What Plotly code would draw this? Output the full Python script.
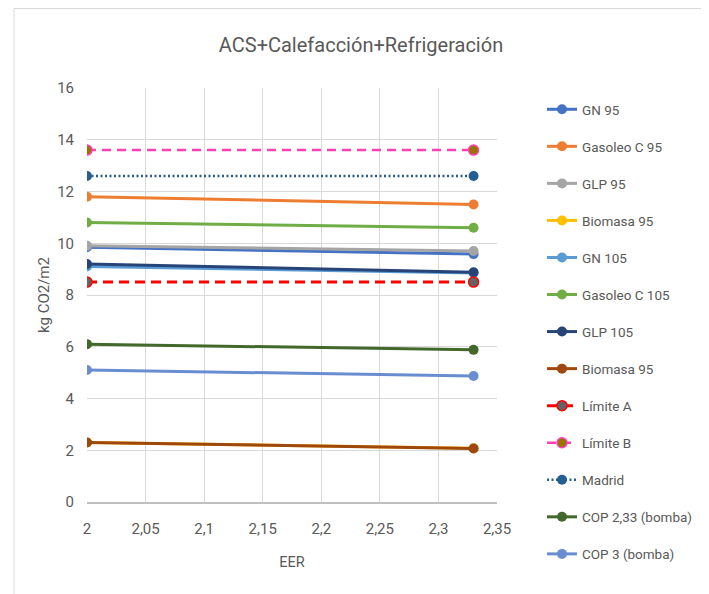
import plotly.graph_objects as go

eer = [2, 2.33]

names = ["GN 95", "Gasoleo C 95", "GLP 95", "Biomasa 95", "GN 105", "Gasoleo C 105",
         "GLP 105", "Biomasa 95", "Límite A", "Límite B", "Madrid",
         "COP 2,33 (bomba)", "COP 3 (bomba)"]

gn95 = [9.85, 9.58]
gasoleo95 = [11.8, 11.5]
glp95 = [9.9, 9.7]
biomasa95 = [2.3, 2.08]
gn105 = [9.1, 8.85]
gasoleo105 = [10.8, 10.6]
glp105 = [9.2, 8.88]
biomasa95b = [2.3, 2.07]
limite_a = [8.5, 8.5]
limite_b = [13.6, 13.6]
madrid = [12.6, 12.6]
cop233 = [6.1, 5.88]
cop3 = [5.1, 4.87]

series = [gn95, gasoleo95, glp95, biomasa95, gn105, gasoleo105, glp105, biomasa95b,
          limite_a, limite_b, madrid, cop233, cop3]

line_colors = ["#4472C4", "#ED7D31", "#A5A5A5", "#FFC000", "#5B9BD5", "#70AD47",
               "#264478", "#9E480E", "#FF0000", "#FF40B4", "#255E91", "#43682B", "#698ED0"]
marker_fill = ["#4472C4", "#ED7D31", "#A5A5A5", "#FFC000", "#5B9BD5", "#70AD47",
               "#264478", "#9E480E", "#636363", "#997300", "#255E91", "#43682B", "#698ED0"]
dashes = ["solid"] * 8 + ["10px,6px", "9px,6px", "2px,2.5px", "solid", "solid"]
widths = [3] * 8 + [3, 2.5, 2.5, 3, 3]

FONT = "Roboto, sans-serif"
GRAY = "#595959"

# page body has an 8px margin: layout is given in figure (container) pixels
L, T, PW, PH = 79, 80, 410, 414
W, H = 709, 594

fig = go.Figure()
for i, (nm, ys) in enumerate(zip(names, series)):
    fig.add_trace(go.Scatter(
        x=eer, y=ys, name=nm, mode="lines+markers",
        legendgroup=f"g{i}",
        line=dict(color=line_colors[i], width=widths[i], dash=dashes[i]),
        marker=dict(size=10, color=marker_fill[i],
                    line=dict(color=line_colors[i], width=1.5 if i in (8, 9) else 0)),
    ))

fig.update_layout(
    width=W, height=H,
    paper_bgcolor="white", plot_bgcolor="white",
    separators=", ",
    margin=dict(l=L, r=W - L - PW, t=T, b=H - T - PH, autoexpand=False),
    font=dict(family=FONT, color=GRAY, size=15),
    title=dict(text="ACS+Calefacción+Refrigeración", x=353 / W,
               xanchor="center", y=1 - 37 / H, yanchor="middle",
               font=dict(size=20, color=GRAY, family=FONT)),
    legend=dict(xref="container", yref="container", x=534 / W, xanchor="left",
                y=1 - 86 / H, yanchor="top", maxheight=1.0,
                tracegroupgap=16.5, font=dict(size=13.5, color=GRAY, family=FONT),
                bgcolor="rgba(0,0,0,0)", itemwidth=30),
    showlegend=True,
    xaxis=dict(range=[2, 2.35], dtick=0.05, tick0=2, showgrid=True, gridcolor="#D9D9D9",
               gridwidth=1, zeroline=False, showline=True, linecolor="#BFBFBF", linewidth=1.5,
               ticks="", ticklabelstandoff=12, tickfont=dict(size=15, color=GRAY),
               title=dict(text="EER", font=dict(size=14.5, color=GRAY), standoff=20)),
    yaxis=dict(range=[0, 16], dtick=2, showgrid=True, gridcolor="#D9D9D9", gridwidth=1,
               zeroline=False, showline=False, ticks="", ticklabelstandoff=12,
               tickfont=dict(size=15, color=GRAY),
               title=dict(text="kg CO2/m2", font=dict(size=15, color=GRAY), standoff=3)),
    shapes=[dict(type="rect", xref="paper", yref="paper",
                 x0=(6 - L) / PW, x1=(700 - L) / PW,
                 y0=-0.4, y1=(PH + T - 0.5) / PH,
                 line=dict(color="#D9D9D9", width=1), fillcolor="rgba(0,0,0,0)",
                 layer="below")],
)

fig.write_html("out.html")
